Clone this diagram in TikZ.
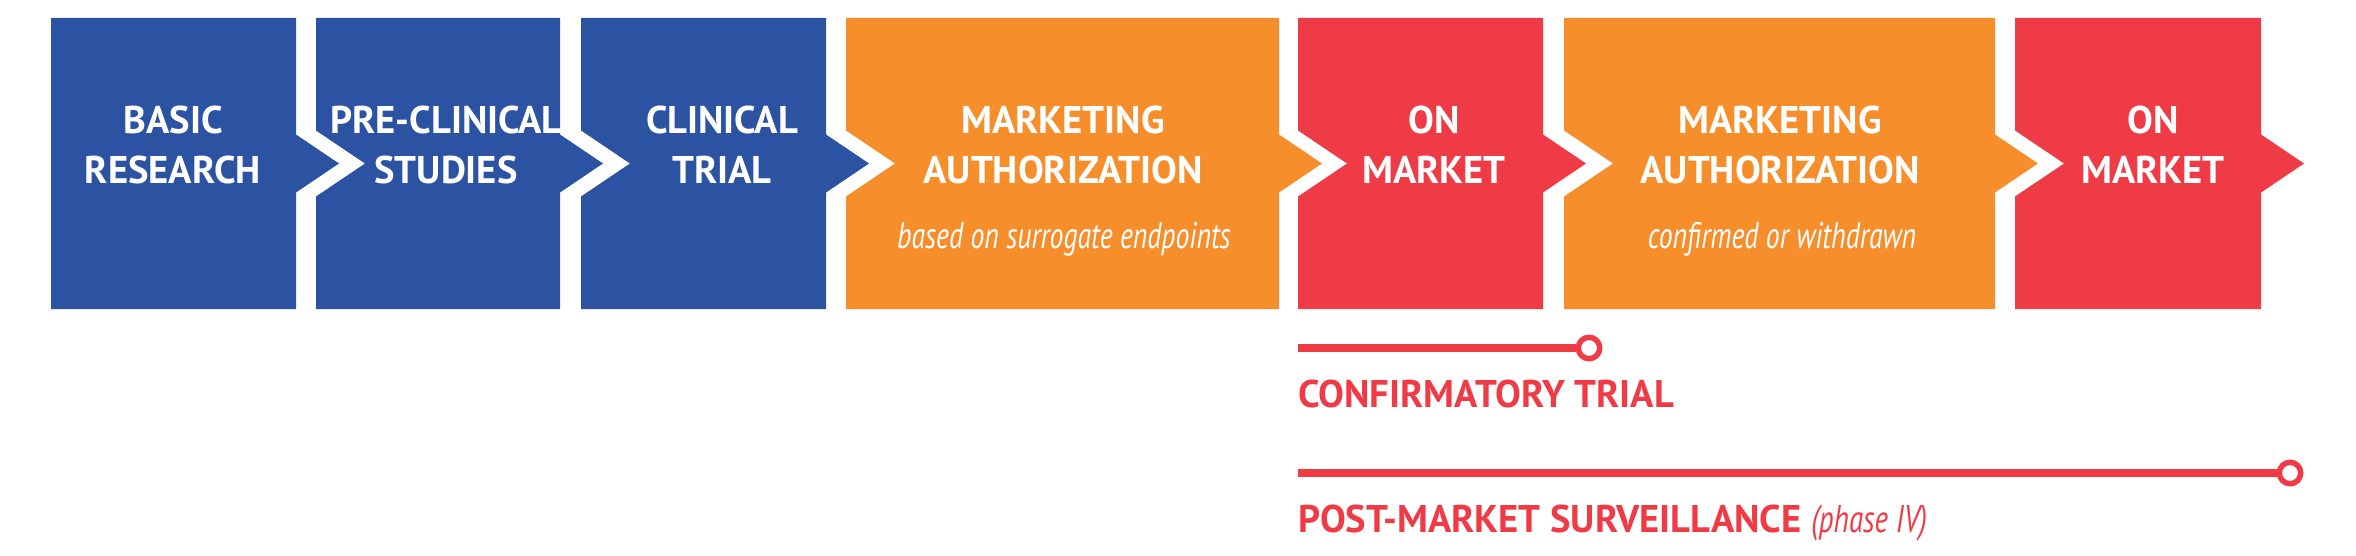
\documentclass[tikz,border=0pt]{standalone}
\usepackage{fontspec}
\setmainfont{PT Sans}
\newfontfamily\subfont[FakeStretch=0.75]{PT Sans}
\definecolor{pblue}{RGB}{44,83,162}
\definecolor{porange}{RGB}{247,142,44}
\definecolor{pred}{RGB}{239,59,69}
\begin{document}
\begin{tikzpicture}[x=0.5pt,y=-0.5pt,
  boxlabel/.style={text=white,font=\fontsize{19.3}{25}\selectfont\bfseries,align=center,inner sep=0pt,anchor=base},
  boxnote/.style={text=white,font=\fontsize{18.5}{22}\selectfont\subfont\itshape,inner sep=0pt,anchor=base},
  tracklabel/.style={text=pred,font=\fontsize{19.3}{25}\selectfont\bfseries,inner sep=0pt,anchor=base west},
  trackline/.style={pred,line width=4pt},
  endring/.style={circle,draw=pred,fill=white,line width=2.75pt,minimum size=10.7pt,inner sep=0pt}]
  \useasboundingbox (0,0) rectangle (2356,556);
  % stages: left/right/colour/notch
  \foreach \l/\r/\c/\n in {51/296/pblue/0,316/560/pblue/1,581/826/pblue/1,846/1279/porange/1,1298/1543/pred/1,1564/1995/porange/1,2015/2261/pred/1}
    \fill[\c] (\l,18) -- (\r,18) -- (\r,134.5) -- (\r+43,163.5) -- (\r,192.5) -- (\r,309)
      -- (\l,309) -- (\l,196.5) -- (\l+49*\n,163.5) -- (\l,130.5) -- cycle;
  \node[boxlabel] (basic) at (173,184) {BASIC\\RESEARCH};
  \node[boxlabel] (preclin) at (446,184) {PRE-CLINICAL\\STUDIES};
  \node[boxlabel] (clin) at (722,184) {CLINICAL\\TRIAL};
  \node[boxlabel] (auth1) at (1063,184) {MARKETING\\AUTHORIZATION};
  \node[boxnote] (auth1note) at (1064,248) {based on surrogate endpoints};
  \node[boxlabel] (market1) at (1434,184) {ON\\MARKET};
  \node[boxlabel] (auth2) at (1780,184) {MARKETING\\AUTHORIZATION};
  \node[boxnote] (auth2note) at (1782,248) {confirmed or withdrawn};
  \node[boxlabel] (market2) at (2153,184) {ON\\MARKET};
  % tracks below
  \coordinate (confstart) at (1298,348);
  \node[endring] (confend) at (1589,348) {};
  \draw[trackline] (confstart) -- (confend);
  \node[tracklabel] (conflabel) at (1298,407) {CONFIRMATORY TRIAL};
  \coordinate (poststart) at (1298,473);
  \node[endring] (postend) at (2290,473) {};
  \draw[trackline] (poststart) -- (postend);
  \node[tracklabel] (postlabel) at (1298,532) {POST-MARKET SURVEILLANCE {\mdseries\subfont\itshape (phase IV)}};
\end{tikzpicture}
\end{document}
